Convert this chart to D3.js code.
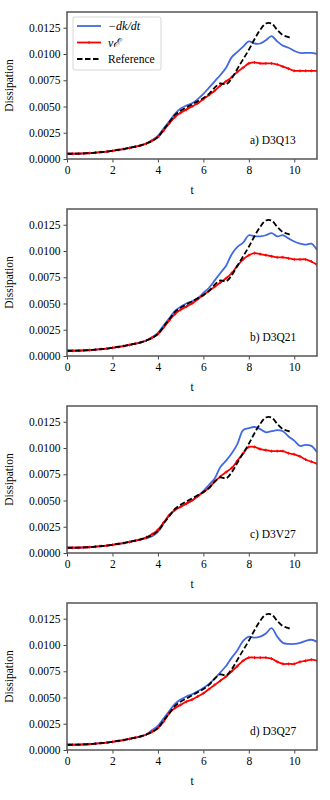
<!DOCTYPE html>
<html><head><meta charset="utf-8">
<script src="https://cdn.jsdelivr.net/npm/d3@7"></script>
<style>
body{margin:0;background:#fff;}
svg{display:block;}
text{font-family:"Liberation Serif","DejaVu Serif",serif;fill:#000;}
</style></head>
<body>
<script>
// ---- DATA ----
const tGrid = [0,0.25,0.5,0.75,1,1.25,1.5,1.75,2,2.25,2.5,2.75,3,3.25,3.5,3.75,4,4.25,4.5,4.75,5,5.25,5.5,5.75,6,6.25,6.5,6.75,7,7.25,7.5,7.75,8,8.25,8.5,8.75,9,9.25,9.5,9.75,10,10.25,10.5,10.75,11];
const early = [0.0005,0.0005,0.00051,0.00053,0.00056,0.0006,0.00065,0.00071,0.00078,0.00086,0.00095,0.00105,0.00117,0.0013];

const panelLabels = ["a) D3Q13","b) D3Q21","c) D3V27","d) D3Q27"];
const xTicks = [0,2,4,6,8,10];
const yTicks = [0,0.0025,0.005,0.0075,0.01,0.0125];
const seriesNames = ["\u2212dk/dt","\u03bd\u2130","Reference"];

const blueA = early.concat([0.0015,0.0018,0.0022,0.0029,0.0036,0.0043,0.0048,0.0051,0.0053,0.0057,0.0062,0.0068,0.0074,0.0080,0.0087,0.0097,0.0102,0.0107,0.0112,0.0110,0.0110,0.0113,0.0117,0.0112,0.0108,0.0106,0.0103,0.0101,0.0101,0.0101,0.0100]);
const redA  = early.concat([0.00148,0.00175,0.0021,0.0027,0.0034,0.0040,0.0044,0.0047,0.0050,0.0053,0.0057,0.0061,0.0065,0.0070,0.0074,0.0078,0.0083,0.0087,0.0091,0.0092,0.0091,0.0091,0.0091,0.0090,0.0088,0.0086,0.0084,0.0084,0.0084,0.0084,0.0084]);

const blueB = early.concat([0.0015,0.0018,0.0022,0.0029,0.0036,0.0043,0.0047,0.0050,0.0052,0.0055,0.0060,0.0065,0.0072,0.0079,0.0086,0.0097,0.0104,0.0108,0.0115,0.0114,0.0114,0.0115,0.0117,0.0114,0.0115,0.0112,0.0109,0.0107,0.0106,0.0107,0.0101]);
const redB  = early.concat([0.00148,0.00175,0.0021,0.0027,0.0034,0.0040,0.0044,0.0047,0.0050,0.0054,0.0058,0.0062,0.0066,0.0070,0.0074,0.0079,0.0086,0.0092,0.0096,0.0098,0.0097,0.0096,0.0095,0.0094,0.0094,0.0093,0.0092,0.0092,0.0092,0.0090,0.0087]);

const blueC = early.concat([0.0014,0.0016,0.0020,0.0028,0.0036,0.0041,0.0044,0.0047,0.0050,0.0054,0.0059,0.0065,0.0071,0.0082,0.0088,0.0095,0.0104,0.0117,0.0119,0.0120,0.0118,0.0115,0.0116,0.0117,0.0116,0.0111,0.0107,0.0102,0.0103,0.0102,0.0096]);
const redC  = early.concat([0.0015,0.0018,0.0022,0.0029,0.0036,0.0041,0.0044,0.0047,0.0050,0.0054,0.0058,0.0062,0.0068,0.0073,0.0077,0.0081,0.0088,0.0095,0.0101,0.0101,0.0099,0.0098,0.0097,0.0097,0.0097,0.0095,0.0094,0.0092,0.0089,0.0087,0.0085]);

const blueD = early.concat([0.0015,0.0019,0.0023,0.0030,0.0037,0.0044,0.0048,0.0051,0.0053,0.0056,0.0059,0.0063,0.0068,0.0074,0.0080,0.0088,0.0095,0.0104,0.0108,0.0107,0.0108,0.0111,0.0116,0.0108,0.0102,0.0101,0.0101,0.0102,0.0104,0.0105,0.0103]);
const redD  = early.concat([0.00148,0.00175,0.0021,0.0027,0.0035,0.0040,0.0043,0.0046,0.0048,0.0051,0.0054,0.0058,0.0062,0.0066,0.0070,0.0075,0.0080,0.0085,0.0088,0.0088,0.0088,0.0088,0.0087,0.0084,0.0082,0.0082,0.0082,0.0084,0.0085,0.0086,0.0085]);

const refT = [0,0.25,0.5,0.75,1,1.25,1.5,1.75,2,2.25,2.5,2.75,3,3.25,3.5,3.75,4,4.25,4.5,4.75,5,5.25,5.5,5.75,6,6.25,6.5,6.75,7,7.25,7.5,7.75,8,8.25,8.5,8.75,9,9.25,9.5,9.75,9.85];
const refV = early.concat([0.00148,0.0017,0.0021,0.0028,0.0035,0.0042,0.0046,0.0049,0.0052,0.0055,0.0058,0.0062,0.0068,0.0072,0.0071,0.0077,0.0086,0.0095,0.0104,0.0114,0.0123,0.0129,0.0129,0.0123,0.0118,0.0116,0.0115]);

const blueSeries = [blueA, blueB, blueC, blueD];
const redSeries = [redA, redB, redC, redD];

// ---- LAYOUT ----
const W = 330, H = 800;
const left = 67, right = 317, ph = 147;
const tops = [12, 209, 406, 603];
const colors = {blue:"#4169e1", red:"#ff0000", black:"#000"};

const svg = d3.select("body").append("svg").attr("width", W).attr("height", H);
const x = d3.scaleLinear().domain([0, 11]).range([left, right]);

tops.forEach((top, i) => {
  const y = d3.scaleLinear().domain([0, 0.014]).range([top + ph, top]);
  const g = svg.append("g");
  const clipId = "clip" + i;
  g.append("clipPath").attr("id", clipId).append("rect")
    .attr("x", left).attr("y", top).attr("width", right - left).attr("height", ph);

  const line = d3.line().x(d => x(d[0])).y(d => y(d[1])).curve(d3.curveCatmullRom.alpha(0.5));
  const pg = g.append("g").attr("clip-path", `url(#${clipId})`);

  const bl = tGrid.map((t, k) => [t, blueSeries[i][k]]);
  const rd = tGrid.map((t, k) => [t, redSeries[i][k]]);
  const rf = refT.map((t, k) => [t, refV[k]]);

  pg.append("path").datum(bl).attr("d", line).attr("fill", "none")
    .attr("stroke", colors.blue).attr("stroke-width", 1.8);
  pg.append("path").datum(rd).attr("d", line).attr("fill", "none")
    .attr("stroke", colors.red).attr("stroke-width", 1.8);
  pg.selectAll(".mk").data(rd).enter().append("path")
    .attr("d", d => `M${x(d[0])-1.5},${y(d[1])}h3M${x(d[0])},${y(d[1])-1.5}v3`)
    .attr("stroke", colors.red).attr("stroke-width", 0.9);
  pg.append("path").datum(rf).attr("d", line).attr("fill", "none")
    .attr("stroke", colors.black).attr("stroke-width", 1.8).attr("stroke-dasharray", "5.5,2.5");

  // axes
  const ax = g.append("g").attr("transform", `translate(0,${top + ph})`)
    .call(d3.axisBottom(x).tickValues(xTicks).tickFormat(d3.format("d")).tickSize(3.5).tickPadding(3));
  const ay = g.append("g").attr("transform", `translate(${left},0)`)
    .call(d3.axisLeft(y).tickValues(yTicks).tickFormat(d3.format(".4f")).tickSize(3.5).tickPadding(3));
  [ax, ay].forEach(a => {
    a.select(".domain").remove();
    a.selectAll("line").attr("stroke", "#333").attr("stroke-width", 0.9);
    a.selectAll("text").attr("font-family", "Liberation Serif").attr("font-size", 11.5).attr("fill", "#000");
  });

  // frame
  g.append("rect").attr("x", left).attr("y", top).attr("width", right - left).attr("height", ph)
    .attr("fill", "none").attr("stroke", "#555").attr("stroke-width", 1.5);

  g.append("text").attr("x", (left + right) / 2).attr("y", top + ph + 35)
    .attr("text-anchor", "middle").attr("font-size", 11.5).text("t");
  g.append("text").attr("transform", `translate(13,${top + ph / 2}) rotate(-90)`)
    .attr("text-anchor", "middle").attr("font-size", 11.5).text("Dissipation");
  g.append("text").attr("x", 250).attr("y", top + ph - 15)
    .attr("font-size", 11.5).text(panelLabels[i]);

  if (i === 0) {
    const lg = g.append("g");
    lg.append("rect").attr("x", 73).attr("y", 17).attr("width", 88).attr("height", 53).attr("rx", 2)
      .attr("fill", "#fff").attr("fill-opacity", 0.85).attr("stroke", "#ccc").attr("stroke-width", 0.8);
    const items = [
      {c: colors.blue, dash: null, mk: false, yy: 26},
      {c: colors.red, dash: null, mk: true, yy: 42.5},
      {c: colors.black, dash: "5.5,2.5", mk: false, yy: 59}
    ];
    items.forEach((it, k) => {
      lg.append("line").attr("x1", 77).attr("x2", 101).attr("y1", it.yy).attr("y2", it.yy)
        .attr("stroke", it.c).attr("stroke-width", 1.8).attr("stroke-dasharray", it.dash);
      if (it.mk) lg.append("path").attr("d", `M87.5,${it.yy}h3M89,${it.yy-1.5}v3`).attr("stroke", it.c).attr("stroke-width", 0.9);
      const tx = lg.append("text").attr("x", 108).attr("y", it.yy + 4).attr("font-size", 11.5);
      if (k < 2) tx.attr("font-family", "DejaVu Sans").attr("font-style", "italic").attr("font-size", 12);
      tx.text(seriesNames[k]);
    });
  }
});
</script>
</body></html>
